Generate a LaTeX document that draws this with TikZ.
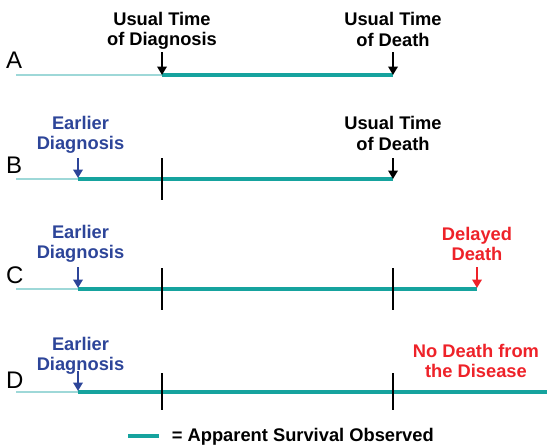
\documentclass[tikz,border=0pt]{standalone}
\usepackage{fontspec}
\setmainfont{Liberation Sans}
\usetikzlibrary{arrows.meta}
\definecolor{teal1}{HTML}{16A39E}
\definecolor{tealL}{HTML}{9ED8D8}
\definecolor{blueT}{HTML}{2D4599}
\definecolor{redT}{HTML}{EE2229}
\tikzset{
  lbl/.style={font=\fontsize{18.3}{20.2}\selectfont\bfseries, align=center, inner sep=0pt, anchor=base},
  rowlbl/.style={font=\fontsize{24}{26}\selectfont, inner sep=0pt, anchor=base west},
  surv/.style={teal1, line width=4pt},
  pre/.style={tealL, line width=1.6pt},
  tick/.style={black, line width=2.8pt},
  arr/.style={line width=2pt, -{Triangle[length=8.5pt,width=9.5pt]}},
}
\begin{document}
\begin{tikzpicture}[x=1pt,y=-1pt]
\useasboundingbox (0,0) rectangle (547,445);
% Row A (label y = baseline of last line)
\node[rowlbl] (LA) at (6,68.3) {A};
\coordinate (A0) at (16,75); \coordinate (A1) at (162,75); \coordinate (A2) at (393,75);
\draw[pre] (A0) -- (A1);
\draw[surv] (A1) -- (A2);
\node[lbl] (tA1) at (162,45.8) {Usual Time\\of Diagnosis};
\node[lbl] (tA2) at (393,46) {Usual Time\\of Death};
\coordinate (aA1) at (162,52); \coordinate (aA2) at (393,52);
\coordinate (eA1) at (162,75); \coordinate (eA2) at (393,75);
\draw[arr] (aA1) -- (eA1);
\draw[arr] (aA2) -- (eA2);
% Row B
\node[rowlbl] (LB) at (6,173.3) {B};
\coordinate (B0) at (16,179); \coordinate (B1) at (78,179); \coordinate (B2) at (393,179);
\draw[pre] (B0) -- (B1);
\draw[surv] (B1) -- (B2);
\coordinate (kB1) at (162,158); \coordinate (kB2) at (162,200);
\draw[tick] (kB1) -- (kB2);
\node[lbl, blueT] (tB1) at (80.5,149.2) {Earlier\\Diagnosis};
\node[lbl] (tB2) at (393,150) {Usual Time\\of Death};
\coordinate (aB1) at (78,158); \coordinate (eB1) at (78,178);
\coordinate (aB2) at (393,158); \coordinate (eB2) at (393,179);
\draw[arr, blueT] (aB1) -- (eB1);
\draw[arr] (aB2) -- (eB2);
% Row C
\node[rowlbl] (LC) at (6,283.3) {C};
\coordinate (C0) at (16,289); \coordinate (C1) at (78,289); \coordinate (C2) at (477,289);
\draw[pre] (C0) -- (C1);
\draw[surv] (C1) -- (C2);
\coordinate (kC1) at (162,268); \coordinate (kC2) at (162,310);
\coordinate (kC3) at (393,268); \coordinate (kC4) at (393,310);
\draw[tick] (kC1) -- (kC2);
\draw[tick] (kC3) -- (kC4);
\node[lbl, blueT] (tC1) at (80.5,258.5) {Earlier\\Diagnosis};
\node[lbl, redT] (tC2) at (477,260.5) {Delayed\\Death};
\coordinate (aC1) at (78,267); \coordinate (eC1) at (78,288);
\coordinate (aC2) at (477,267); \coordinate (eC2) at (477,288);
\draw[arr, blueT] (aC1) -- (eC1);
\draw[arr, redT] (aC2) -- (eC2);
% Row D
\node[rowlbl] (LD) at (6,388.3) {D};
\coordinate (D0) at (16,392); \coordinate (D1) at (78,392); \coordinate (D2) at (547,392);
\draw[pre] (D0) -- (D1);
\draw[surv] (D1) -- (D2);
\coordinate (kD1) at (162,373); \coordinate (kD2) at (162,410);
\coordinate (kD3) at (393,373); \coordinate (kD4) at (393,410);
\draw[tick] (kD1) -- (kD2);
\draw[tick] (kD3) -- (kD4);
\node[lbl, blueT] (tD1) at (80.5,370.7) {Earlier\\Diagnosis};
\node[lbl, redT] (tD2) at (476,377.3) {No Death from\\the Disease};
\coordinate (aD1) at (78,371); \coordinate (eD1) at (78,391);
\draw[arr, blueT] (aD1) -- (eD1);
% Legend
\coordinate (G0) at (128,436); \coordinate (G1) at (159,436);
\draw[surv] (G0) -- (G1);
\node[lbl, anchor=base west] (tG) at (171.7,441.7) {= Apparent Survival Observed};
\end{tikzpicture}
\end{document}
